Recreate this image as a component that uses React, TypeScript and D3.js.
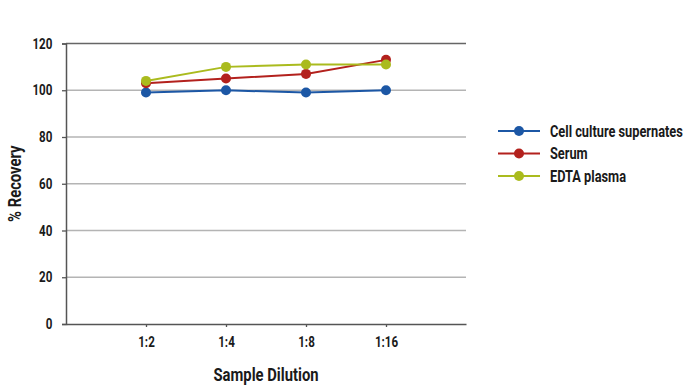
import React, { useEffect, useRef } from 'react';
import * as d3 from 'd3';

const dilutions = ["1:2", "1:4", "1:8", "1:16"];
const cellCulture = [99, 100, 99, 100];
const serum = [103, 105, 107, 113];
const edtaPlasma = [104, 110, 111, 111];
const yTicks = [0, 20, 40, 60, 80, 100, 120];

const seriesList = [
  { name: "Cell culture supernates", values: cellCulture, color: "#1c57a5" },
  { name: "Serum", values: serum, color: "#b3211d" },
  { name: "EDTA plasma", values: edtaPlasma, color: "#aabb1e" },
];

// condensed look: Roboto bold squeezed horizontally
const FONT = "Roboto, 'DejaVu Sans', sans-serif";
const SQ = 0.8;

const App: React.FC = () => {
  const svgRef = useRef<SVGSVGElement>(null);

  useEffect(() => {
    document.body.style.margin = "0";
    if (!svgRef.current) return;

    const svg = d3.select(svgRef.current);
    svg.selectAll("*").remove();

    const left = 66, right = 466, top = 43.5, bottom = 324;

    const x = d3.scalePoint<string>()
      .domain(dilutions)
      .range([left, right])
      .padding(1);

    const y = d3.scaleLinear()
      .domain([0, 120])
      .range([bottom, top]);

    // Grid lines
    svg.append("g")
      .selectAll("line")
      .data(yTicks.filter(t => t > 0))
      .enter().append("line")
      .attr("x1", left)
      .attr("x2", right)
      .attr("y1", d => y(d))
      .attr("y2", d => y(d))
      .attr("stroke", d => d === 120 ? "#666" : "#b4b4b4")
      .attr("stroke-width", d => d === 120 ? 1.5 : 1.3);

    // Y axis
    const yAxis = svg.append("g")
      .attr("transform", `translate(${left},0)`)
      .call(d3.axisLeft(y).tickValues(yTicks).tickSize(4).tickPadding(13).tickFormat(d3.format("d")));
    yAxis.select(".domain").attr("stroke", "#555").attr("stroke-width", 1.5);
    yAxis.selectAll(".tick line").attr("stroke", "#555").attr("stroke-width", 1.3);
    yAxis.selectAll("text")
      .attr("transform", `scale(${SQ},1)`)
      .style("font-family", FONT)
      .style("font-weight", "bold")
      .style("font-size", "14.5px")
      .attr("fill", "#1a1a1a");

    // X axis
    const xAxis = svg.append("g")
      .attr("transform", `translate(0,${bottom})`)
      .call(d3.axisBottom(x).tickSize(3).tickPadding(10).tickSizeOuter(0));
    xAxis.select(".domain").attr("stroke", "#555").attr("stroke-width", 1.5);
    xAxis.selectAll(".tick line").attr("stroke", "#555").attr("stroke-width", 1.3);
    xAxis.selectAll("text")
      .attr("transform", `scale(${SQ},1)`)
      .style("font-family", FONT)
      .style("font-weight", "bold")
      .style("font-size", "14.5px")
      .attr("fill", "#1a1a1a");

    // Axis titles
    svg.append("text")
      .attr("transform", `translate(21,${(top + bottom) / 2}) rotate(-90) scale(${SQ},1)`)
      .attr("text-anchor", "middle")
      .style("font-family", FONT)
      .style("font-weight", "bold")
      .style("font-size", "18.5px")
      .attr("fill", "#1a1a1a")
      .text("% Recovery");

    svg.append("text")
      .attr("transform", `translate(${(left + right) / 2},381) scale(${SQ},1)`)
      .attr("text-anchor", "middle")
      .style("font-family", FONT)
      .style("font-weight", "bold")
      .style("font-size", "18.5px")
      .attr("fill", "#1a1a1a")
      .text("Sample Dilution");

    // Series lines and markers
    const line = d3.line<number>()
      .x((_, i) => x(dilutions[i])!)
      .y(d => y(d));

    seriesList.forEach(s => {
      svg.append("path")
        .datum(s.values)
        .attr("fill", "none")
        .attr("stroke", s.color)
        .attr("stroke-width", 2)
        .attr("d", line);
    });
    seriesList.forEach(s => {
      svg.append("g")
        .selectAll("circle")
        .data(s.values)
        .enter().append("circle")
        .attr("cx", (_, i) => x(dilutions[i])!)
        .attr("cy", d => y(d))
        .attr("r", 5)
        .attr("fill", s.color);
    });

    // Legend
    const legend = svg.append("g").attr("transform", "translate(498,131)");
    seriesList.forEach((s, i) => {
      const row = legend.append("g").attr("transform", `translate(0,${i * 22.5})`);
      row.append("line")
        .attr("x1", 0).attr("x2", 42)
        .attr("stroke", s.color).attr("stroke-width", 2);
      row.append("circle")
        .attr("cx", 21).attr("r", 5).attr("fill", s.color);
      row.append("text")
        .attr("transform", `translate(52,0) scale(${SQ},1)`)
        .attr("dy", "0.35em")
        .style("font-family", FONT)
        .style("font-weight", "bold")
        .style("font-size", "16px")
        .attr("fill", "#1a1a1a")
        .text(s.name);
    });
  }, []);

  return <svg ref={svgRef} width={694} height={389} style={{ display: "block", background: "#fff" }} />;
};

export default App;
